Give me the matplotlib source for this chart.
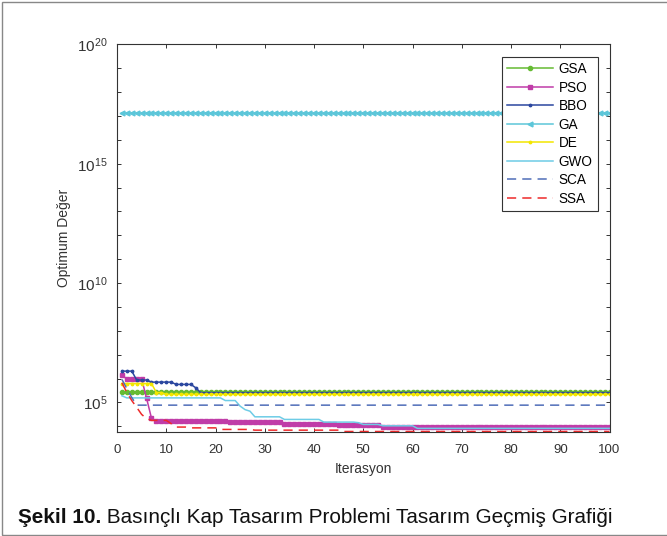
import numpy as np
import matplotlib
matplotlib.use("Agg")
import matplotlib.pyplot as plt
from matplotlib.ticker import FixedLocator, FixedFormatter, NullFormatter
from matplotlib.patches import Rectangle

plt.rcParams['font.family'] = ['Liberation Sans', 'DejaVu Sans']
plt.rcParams['mathtext.fontset'] = 'custom'
plt.rcParams['mathtext.rm'] = 'Liberation Sans'
plt.rcParams['mathtext.it'] = 'Liberation Sans:italic'
plt.rcParams['mathtext.bf'] = 'Liberation Sans:bold'

iterations = np.arange(1, 101)

gsa = [2.7e5] * 100
pso = ([1.35e6] + [9.8e5] * 4 + [1.5e5] + [2.2e4] + [1.65e4] * 15 + [1.5e4] * 11
       + [1.29e4] * 11 + [1.15e4] * 9 + [9.6e3] * 47)
bbo = [2.05e6] * 3 + [8.7e5] * 3 + [7.1e5] * 5 + [5.7e5] * 4 + [4.1e5] + [2.55e5] * 84
ga = [1.4e17] * 100
de = [6.2e5] * 7 + [2.6e5] * 2 + [2.16e5] * 91
gwo = ([1.9e5] + [1.55e5] * 20 + [1.2e5] * 3 + [7e4] + [5e4] + [4.3e4] + [2.5e4] * 6
       + [1.94e4] * 8 + [1.5e4] * 7 + [1.42e4] + [1.2e4] * 4 + [1.05e4] * 7 + [8.2e3] * 40)
sca = [9.2e5, 3.8e5, 1.6e5] + [7.7e4] * 97
ssa = ([6.6e5, 2.6e5, 1.2e5, 6.2e4, 3.15e4, 2.1e4] + [1.77e4] * 4 + [1.3e4] + [9.3e3] * 3
       + [8.6e3] * 6 + [7.4e3] * 7 + [6.9e3] * 18 + [6.06e3] * 55)

ytick_vals = [1e5, 1e10, 1e15, 1e20]
ytick_labels = [r'$10^{5}$', r'$10^{10}$', r'$10^{15}$', r'$10^{20}$']

fig = plt.figure(figsize=(6.67, 5.36), dpi=100)
ax = fig.add_axes([117 / 667, 1 - 431.5 / 536, (609.5 - 117) / 667, (431.5 - 44.4) / 536])

lw = 1.1
ax.semilogy(iterations, gsa, color='#66BB33', lw=lw, marker='o', ms=3, label='GSA')
ax.semilogy(iterations, pso, color='#C03CA8', lw=lw, marker='s', ms=2.2, label='PSO')
ax.semilogy(iterations, bbo, color='#2B479F', lw=lw, marker='.', ms=3.5, label='BBO')
ax.semilogy(iterations, ga, color='#5CC6D9', lw=lw, marker='<', ms=3.5, label='GA')
ax.semilogy(iterations, de, color='#F2E600', lw=lw, marker='.', ms=3.5, label='DE')
ax.semilogy(iterations, gwo, color='#6ECCE6', lw=lw, label='GWO')
ax.semilogy(iterations, sca, color='#4F6DB8', lw=lw, ls=(0, (6, 4)), label='SCA')
ax.semilogy(iterations, ssa, color='#EE2A2A', lw=lw, ls=(0, (6, 4)), label='SSA')

ax.set_xlim(0, 100)
ax.set_ylim(6.06e3, 1e20)
ax.set_xticks(np.arange(0, 101, 10))
ax.yaxis.set_major_locator(FixedLocator(ytick_vals))
ax.yaxis.set_major_formatter(FixedFormatter(ytick_labels))
ax.yaxis.set_minor_locator(FixedLocator([10.0 ** k for k in range(4, 20) if k % 5 != 0]))
ax.yaxis.set_minor_formatter(NullFormatter())

ax.tick_params(which='both', direction='in', top=True, right=True, colors='#333333',
               length=3, width=0.7)
ax.tick_params(axis='x', labelsize=9.5, pad=9)
ax.tick_params(axis='y', labelsize=11, pad=7)
for s in ax.spines.values():
    s.set_color('#333333')
    s.set_linewidth(0.8)

ax.set_xlabel('Iterasyon', fontsize=10, color='#333333', labelpad=4)
ax.set_ylabel('Optimum Değer', fontsize=10, color='#333333', labelpad=4)

leg = ax.legend(loc='upper right', bbox_to_anchor=(0.977, 0.968), borderaxespad=0,
                fontsize=9.8, handlelength=3.4, handletextpad=0.4, labelspacing=0.33,
                fancybox=False, edgecolor='#333333', framealpha=1)
leg.get_frame().set_linewidth(0.8)

# figure frame (left, top and bottom visible)
fig.add_artist(Rectangle((2 / 667, 1.5 / 536), 1.0, 1 - 3 / 536, transform=fig.transFigure,
                         fill=False, edgecolor='#888888', lw=1.0, clip_on=False))

# caption: bold part then normal part, scaled to the reference width
cap_family = ['Liberation Sans Narrow', 'Liberation Sans', 'DejaVu Sans']
fs = 15
t1 = fig.text(18 / 667, 1 - 523 / 536, 'Şekil 10.', fontsize=fs, fontweight='bold',
              family=cap_family, color='#111111')
t2 = fig.text(0, 1 - 523 / 536, ' Basınçlı Kap Tasarım Problemi Tasarım Geçmiş Grafiği',
              fontsize=fs, family=cap_family, color='#111111')
fig.canvas.draw()
r = fig.canvas.get_renderer()
w = t1.get_window_extent(r).width + t2.get_window_extent(r).width
fs = fs * 595 / w
t1.set_fontsize(fs)
t2.set_fontsize(fs)
fig.canvas.draw()
e1 = t1.get_window_extent(r)
t2.set_x(e1.x1 / fig.bbox.width)

fig.savefig('out.png', dpi=100)
